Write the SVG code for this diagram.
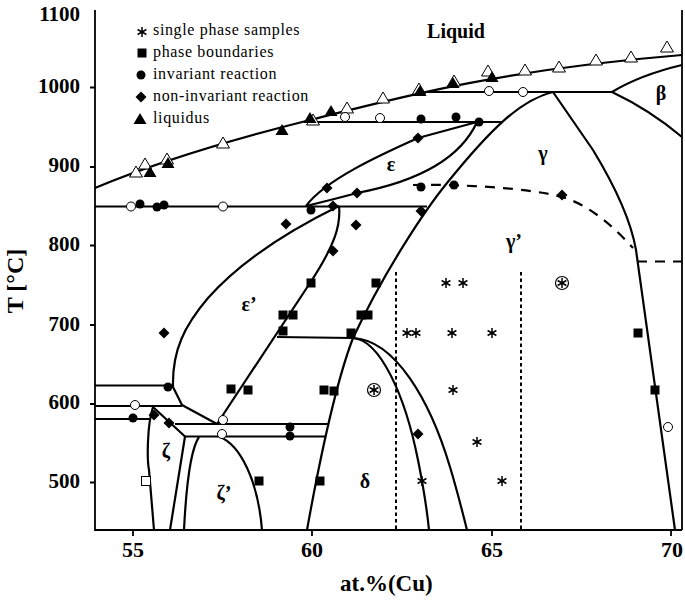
<svg xmlns="http://www.w3.org/2000/svg" xmlns:xlink="http://www.w3.org/1999/xlink" width="685" height="602" viewBox="0 0 685 602">
<style>
text{font-family:"Liberation Serif","Times New Roman",serif;fill:#000}
.b{font-weight:bold}
.t{font-size:21px;font-weight:bold;text-anchor:end}
.x{font-size:22px;font-weight:bold;text-anchor:middle}
.g{font-size:20px;font-weight:bold;text-anchor:middle}
.l{font-size:16px;letter-spacing:.65px}
.c{fill:none;stroke:#000;stroke-width:2.2;stroke-linejoin:round}
.a{fill:none;stroke:#000;stroke-width:1.8}
.d{fill:none;stroke:#000;stroke-width:2;stroke-dasharray:3.5 3}
.h{fill:none;stroke:#000;stroke-width:2.2;stroke-dasharray:10 8}
.f{fill:#000}
.o{fill:#fff;stroke:#000;stroke-width:1}
</style>
<defs>
<polygon id="tr" points="0,-6 6.5,5 -6.5,5"/>
<circle id="ci" r="4.5"/>
<polygon id="di" points="0,-5.5 5.5,0 0,5.5 -5.5,0"/>
<rect id="sq" x="-4.5" y="-4.5" width="9" height="9"/>
<g id="as" stroke="#000" stroke-width="1.5"><path d="M0-5V5M-4.4-2.5L4.4 2.5M-4.4 2.5L4.4-2.5"/></g>
</defs>
<rect width="685" height="602" fill="#fff"/>
<g id="axes">
<path class="a" d="M95 10V530H682M682 10V530"/>
<path class="a" d="M90 87.5H95M90 167H95M90 245.5H95M90 325H95M90 404H95M90 482.5H95M133 530V536M312 530V536M492 530V536M671 530V536"/>
</g>
<g id="tick-labels">
<text class="t" x="80" y="21">1100</text>
<text class="t" x="80" y="93">1000</text>
<text class="t" x="80" y="172">900</text>
<text class="t" x="80" y="251">800</text>
<text class="t" x="80" y="331">700</text>
<text class="t" x="80" y="409">600</text>
<text class="t" x="80" y="488">500</text>
<text class="x" x="133" y="557">55</text>
<text class="x" x="312" y="557">60</text>
<text class="x" x="492" y="557">65</text>
<text class="x" x="672" y="557">70</text>
<text class="b" x="340" y="591" font-size="23">at.%(Cu)</text>
<text class="b" font-size="24" text-anchor="middle" transform="translate(23 281) rotate(-90)">T [°C]</text>
</g>
<g id="phase-lines">
<path class="c" d="M95 188C150 165 230 140 310 120C400 97 500 70 682 55"/>
<path class="c" d="M95 206.5H427M310 122H502M427 92H612M95 385.500H173M95 406H182M95 419H149M175 424H328M185 436.500H325M277 337L353 338"/>
<path class="c" d="M553 92C520 100 490 130 447 183C425 210 385 270 353 338C340 372 325 430 307 530"/>
<path class="c" d="M553 92L593 150C610 178 630 215 636 250C645 320 660 420 675 530"/>
<path class="c" d="M682 65Q640 75 612 92Q650 110 682 137"/>
<path class="c" d="M306 206C325 180 380 155 418 138L477 122C462 155 425 180 357 193Q335 199 306 206"/>
<path class="c" d="M339 206C290 230 240 262 208 298C185 325 172 350 173 387L182 405L217 424"/>
<path class="c" d="M339 206C341 225 335 245 310 283L217 424"/>
<path class="c" d="M353 338C380 340 405 395 418 460C424 490 427 510 429 530"/>
<path class="c" d="M353 338C395 340 430 400 450 467C457 490 462 510 467 530"/>
<path class="c" d="M153 407C147 425 147 460 149 470L154 530M153 407L185 436.500L170 530"/>
<path class="c" d="M184 530C186 490 190 450 199 437M220 437C240 445 258 480 262 530"/>
<path class="h" d="M413 185C460 184 530 188 562 197C590 205 615 228 633 248M637 261.500H682"/>
<path class="d" d="M396 272V530M521 272V530"/>
</g>
<g id="phase-labels">
<text class="b" x="456" y="38" font-size="20" text-anchor="middle">Liquid</text>
<text class="g" x="391" y="171">ε</text>
<text class="g" x="543" y="160">γ</text>
<text class="g" x="514" y="248">γ’</text>
<text class="g" x="661" y="100">β</text>
<text class="g" x="249" y="311">ε’</text>
<text class="g" x="166" y="458">ζ</text>
<text class="g" x="224" y="500">ζ’</text>
<text class="g" x="365" y="488">δ</text>
</g>
<g id="open-triangles" class="o">
<use xlink:href="#tr" x="136" y="172"/><use xlink:href="#tr" x="145" y="164"/><use xlink:href="#tr" x="167" y="159"/><use xlink:href="#tr" x="223" y="143"/><use xlink:href="#tr" x="313" y="120"/><use xlink:href="#tr" x="347" y="108"/><use xlink:href="#tr" x="383" y="98"/><use xlink:href="#tr" x="419" y="89"/><use xlink:href="#tr" x="454" y="81"/><use xlink:href="#tr" x="488" y="71"/><use xlink:href="#tr" x="525" y="70"/><use xlink:href="#tr" x="559" y="67"/><use xlink:href="#tr" x="596" y="60"/><use xlink:href="#tr" x="631" y="57"/><use xlink:href="#tr" x="667" y="47"/>
</g>
<g id="open-markers" class="o">
<use xlink:href="#ci" x="131" y="206.500"/><use xlink:href="#ci" x="223" y="206.500"/><use xlink:href="#ci" x="345" y="117"/><use xlink:href="#ci" x="380" y="118"/><use xlink:href="#ci" x="489" y="91"/><use xlink:href="#ci" x="523" y="92"/><use xlink:href="#ci" x="135" y="405"/><use xlink:href="#ci" x="223" y="420"/><use xlink:href="#ci" x="222" y="434"/><use xlink:href="#ci" x="668" y="427"/><use xlink:href="#sq" x="146" y="481"/>
</g>
<g id="filled-markers" class="f">
<use xlink:href="#tr" x="150" y="172"/><use xlink:href="#tr" x="168" y="163"/><use xlink:href="#tr" x="282" y="130"/><use xlink:href="#tr" x="310" y="118"/><use xlink:href="#tr" x="331" y="111"/><use xlink:href="#tr" x="420" y="91"/><use xlink:href="#tr" x="453" y="83"/><use xlink:href="#tr" x="492" y="77"/>
<use xlink:href="#ci" x="140" y="204"/><use xlink:href="#ci" x="157" y="207"/><use xlink:href="#ci" x="164" y="205"/><use xlink:href="#ci" x="311" y="210"/><use xlink:href="#ci" x="421" y="119"/><use xlink:href="#ci" x="456" y="117"/><use xlink:href="#ci" x="479" y="122"/><use xlink:href="#ci" x="421" y="187"/><use xlink:href="#ci" x="454" y="185"/><use xlink:href="#ci" x="168" y="387"/><use xlink:href="#ci" x="133" y="418"/><use xlink:href="#ci" x="290" y="427"/><use xlink:href="#ci" x="290" y="436"/>
<use xlink:href="#di" x="327" y="188"/><use xlink:href="#di" x="333" y="251"/><use xlink:href="#di" x="286" y="224"/><use xlink:href="#di" x="333" y="206"/><use xlink:href="#di" x="357" y="193"/><use xlink:href="#di" x="418" y="138"/><use xlink:href="#di" x="421" y="211"/><use xlink:href="#di" x="356" y="225"/><use xlink:href="#di" x="562" y="195"/><use xlink:href="#di" x="164" y="333"/><use xlink:href="#di" x="154" y="415"/><use xlink:href="#di" x="169" y="423"/><use xlink:href="#di" x="418" y="434"/>
<use xlink:href="#sq" x="311" y="283"/><use xlink:href="#sq" x="376" y="283"/><use xlink:href="#sq" x="283" y="315"/><use xlink:href="#sq" x="293" y="315"/><use xlink:href="#sq" x="283" y="331"/><use xlink:href="#sq" x="231" y="389"/><use xlink:href="#sq" x="248" y="390"/><use xlink:href="#sq" x="324" y="390"/><use xlink:href="#sq" x="334" y="391"/><use xlink:href="#sq" x="259" y="481"/><use xlink:href="#sq" x="320" y="481"/><use xlink:href="#sq" x="361" y="315"/><use xlink:href="#sq" x="368" y="315"/><use xlink:href="#sq" x="351" y="333"/><use xlink:href="#sq" x="638" y="333"/><use xlink:href="#sq" x="655" y="390"/>
</g>
<g id="asterisks">
<use xlink:href="#as" x="446" y="283"/><use xlink:href="#as" x="463" y="283"/><use xlink:href="#as" x="407" y="333"/><use xlink:href="#as" x="416" y="333"/><use xlink:href="#as" x="452" y="333"/><use xlink:href="#as" x="492" y="333"/><use xlink:href="#as" x="453" y="390"/><use xlink:href="#as" x="477" y="442"/><use xlink:href="#as" x="422" y="481"/><use xlink:href="#as" x="502" y="481"/>
<use xlink:href="#as" x="562" y="283"/><use xlink:href="#as" x="374" y="390"/>
<circle class="a" cx="562" cy="283" r="6.500" style="stroke-width:1.2"/><circle class="a" cx="374" cy="390" r="6.500" style="stroke-width:1.2"/>
</g>
<g id="legend">
<use xlink:href="#as" x="142" y="32"/>
<use xlink:href="#sq" class="f" x="142" y="53"/>
<use xlink:href="#ci" class="f" x="141" y="75"/>
<use xlink:href="#di" class="f" x="141" y="97"/>
<use xlink:href="#tr" class="f" x="140" y="119"/>
<text class="l" x="153" y="35">single phase samples</text>
<text class="l" x="153" y="57">phase boundaries</text>
<text class="l" x="153" y="79">invariant reaction</text>
<text class="l" x="153" y="101">non-invariant reaction</text>
<text class="l" x="153" y="123">liquidus</text>
</g>
</svg>
